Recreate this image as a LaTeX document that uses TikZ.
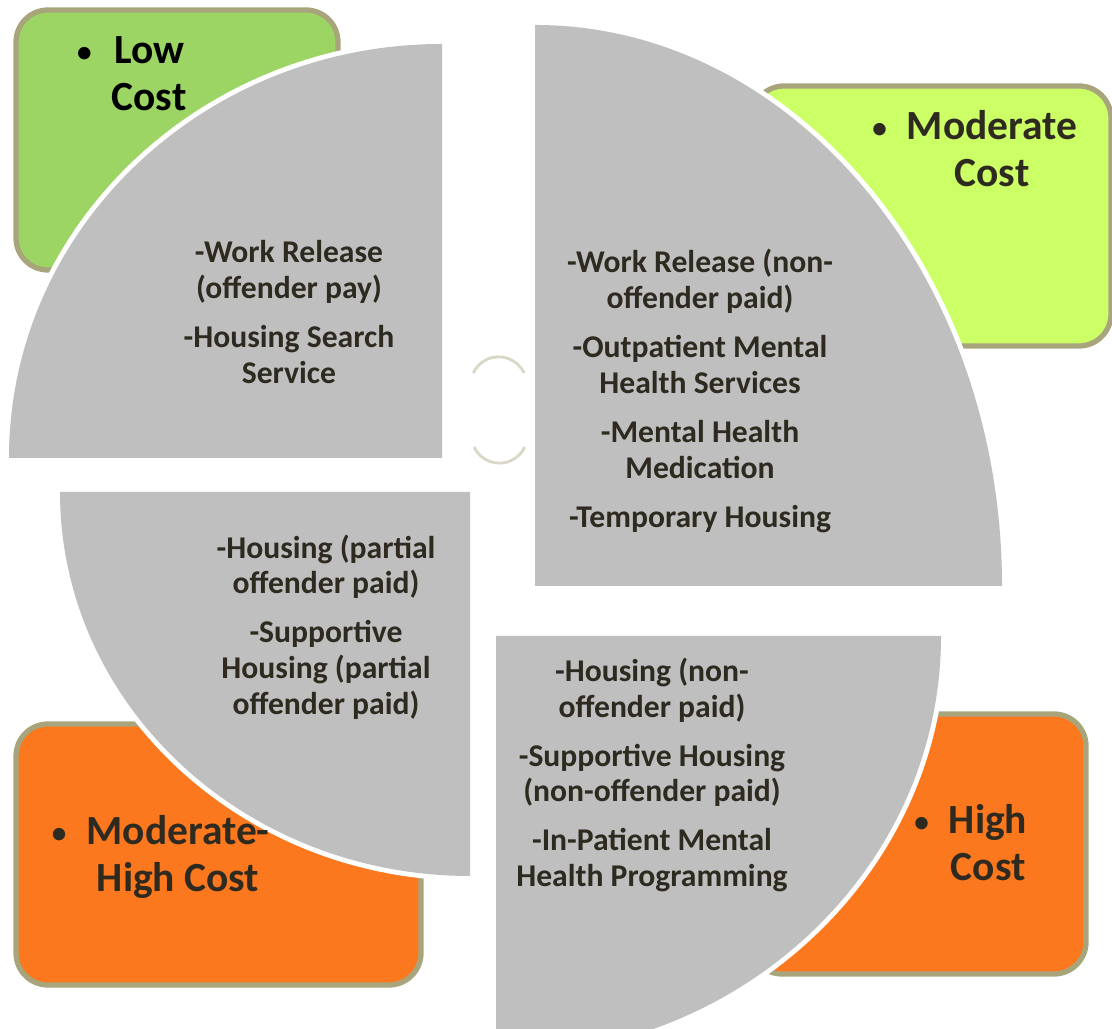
\documentclass[tikz,border=0pt]{standalone}
\usepackage{fontspec}
\setmainfont{Carlito}
\definecolor{lowgreen}{HTML}{9CD564}
\definecolor{modgreen}{HTML}{CCFF66}
\definecolor{hiorange}{HTML}{FC781E}
\definecolor{rimkhaki}{HTML}{A8A47C}
\definecolor{quadgray}{HTML}{BFBFBF}
\definecolor{inkbrown}{HTML}{2E2A20}
\definecolor{hubline}{HTML}{D9D7C6}
\newcommand\dotmark{{\mdseries\fontsize{10}{12}\selectfont\textbullet}}
\tikzset{
costbox/.style={draw=rimkhaki,line width=1.5pt,rounded corners=0.32cm},
quad/.style={fill=quadgray,preaction={draw=white,line width=2.8pt}},
itemtext/.style={align=center,text=inkbrown,font=\bfseries\fontsize{9}{10.2}\selectfont},
costlabel/.style={text=inkbrown,font=\bfseries\fontsize{11.8}{13.4}\selectfont,inner sep=0pt}
}
\begin{document}
\begin{tikzpicture}
\useasboundingbox (0,0) rectangle (11.12,10.28);
\draw[costbox,fill=lowgreen] (0.16,10.18) rectangle (3.38,7.58);
\draw[costbox,fill=modgreen] (7.52,9.42) rectangle (11.11,6.82);
\draw[costbox,fill=hiorange] (0.16,3.04) rectangle (4.21,0.43);
\draw[costbox,fill=hiorange] (7.50,3.14) rectangle (10.86,0.54);
\draw[hubline,line width=0.8pt] (5.24,6.55) arc[start angle=25,end angle=155,radius=0.28];
\draw[hubline,line width=0.8pt] (4.74,5.81) arc[start angle=205,end angle=335,radius=0.28];
\path[quad] (4.42,5.70) -- (0.09,5.70) arc[start angle=180,end angle=90,x radius=4.33,y radius=4.14] -- cycle;
\path[quad] (5.35,4.42) -- (5.35,10.03) arc[start angle=90,end angle=0,x radius=4.67,y radius=5.61] -- cycle;
\path[quad] (4.70,5.36) -- (0.60,5.36) arc[start angle=180,end angle=270,x radius=4.10,y radius=3.84] -- cycle;
\path[quad] (4.96,3.92) -- (9.41,3.92) arc[start angle=0,end angle=-90,x radius=4.45,y radius=4.20] -- cycle;
\node[itemtext] (lowitems) at (2.89,7.16) {-Work Release\\(offender pay)\\[3.7pt]-Housing Search\\Service};
\node[itemtext] (moditems) at (7.00,6.37) {-Work Release (non-\\offender paid)\\[3.7pt]-Outpatient Mental\\Health Services\\[3.7pt]-Mental Health\\Medication\\[3.7pt]-Temporary Housing};
\node[itemtext] (modhiitems) at (3.26,4.01) {-Housing (partial\\offender paid)\\[3.7pt]-Supportive\\Housing (partial\\offender paid)};
\node[itemtext] (hiitems) at (6.52,2.53) {-Housing (non-\\offender paid)\\[3.7pt]-Supportive Housing\\(non-offender paid)\\[3.7pt]-In-Patient Mental\\Health Programming};
\node[costlabel,text=black] (low) at (1.31,9.50) {\begin{tabular}{@{}c@{\hspace{0.45em}}c@{}}\dotmark&Low\\&Cost\end{tabular}};
\node[costlabel] (mod) at (9.74,8.74) {\begin{tabular}{@{}c@{\hspace{0.45em}}c@{}}\dotmark&Moderate\\&Cost\end{tabular}};
\node[costlabel] (modhi) at (1.60,1.69) {\begin{tabular}{@{}c@{\hspace{0.45em}}c@{}}\dotmark&Moderate-\\&High Cost\end{tabular}};
\node[costlabel] (hi) at (9.70,1.80) {\begin{tabular}{@{}c@{\hspace{0.45em}}c@{}}\dotmark&High\\&Cost\end{tabular}};
\end{tikzpicture}
\end{document}
